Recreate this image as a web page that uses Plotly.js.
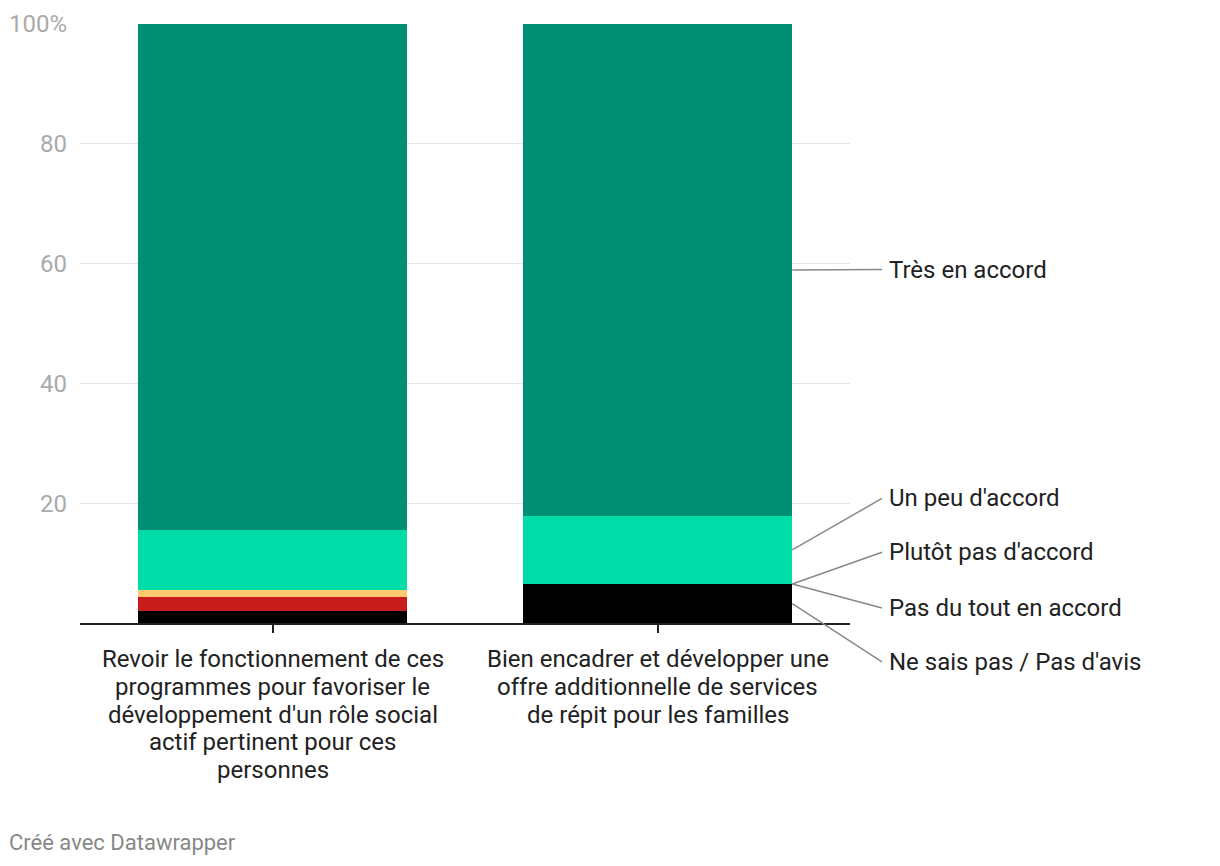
<!DOCTYPE html>
<html><head><meta charset="utf-8">
<script src="https://cdn.plot.ly/plotly-3.0.1.min.js"></script>
<style>body{margin:0;background:#fff}#c{width:1220px;height:866px}</style>
</head><body><div id="c"></div>
<script>
const categories = [
  "Revoir le fonctionnement de ces<br>programmes pour favoriser le<br>développement d'un rôle social<br>actif pertinent pour ces<br>personnes",
  "Bien encadrer et développer une<br>offre additionnelle de services<br>de répit pour les familles"
];
const seriesNames = ["Ne sais pas / Pas d'avis","Pas du tout en accord","Plutôt pas d'accord","Un peu d'accord","Très en accord"];
const neSaisPas = [2.0, 6.5];
const pasDuTout = [2.4, 0];
const plutotPas = [1.1, 0];
const unPeu = [10.0, 11.4];
const tresEnAccord = [84.5, 82.1];
const yTickVals = [20, 40, 60, 80, 100];
const yTickText = ["20", "40", "60", "80", "100%"];

const colors = ["#000000", "#c71e1d", "#fec96f", "#00dca8", "#018f73"];
const series = [neSaisPas, pasDuTout, plutotPas, unPeu, tresEnAccord];

const traces = series.map((vals, i) => ({
  type: 'bar', x: [0, 1], y: vals, name: seriesNames[i],
  marker: {color: colors[i], line: {width: 0}}, width: 0.7, hoverinfo: 'skip'
}));

const H = 599, W = 770;
const labelY = [-0.065, 0.025, 0.118, 0.208, 0.59];
const shapes = [];
const annotations = [];
const barRight = (1.35 + 0.5) / 2;
const lineEnd = 1 + 32 / W;
let cum = 0;
series.forEach((vals, i) => {
  const v = vals[1];
  const mid = (cum + v / 2) / 100;
  cum += v;
  shapes.push({type: 'line', xref: 'paper', yref: 'paper', x0: barRight, y0: mid, x1: lineEnd, y1: labelY[i],
    line: {color: '#888888', width: 1.5}});
  annotations.push({xref: 'paper', yref: 'paper', x: 1 + 37 / W, y: labelY[i], xanchor: 'left', yanchor: 'middle',
    text: seriesNames[i], showarrow: false, font: {family: 'Roboto', size: 24, color: '#222222'}});
});
// category labels, one annotation per line for tighter line spacing
categories.forEach((cat, ci) => {
  cat.split('<br>').forEach((line, li) => {
    annotations.push({xref: 'x', yref: 'paper', x: ci, y: -(36 + li * 27.75) / H, xanchor: 'center', yanchor: 'middle',
      text: line, showarrow: false, font: {family: 'Roboto', size: 24, color: '#222222'}});
  });
});
annotations.push({xref: 'paper', yref: 'paper', x: -73 / W, y: -(843 - 623) / H, xanchor: 'left', yanchor: 'middle',
  text: 'Créé avec Datawrapper', showarrow: false, font: {family: 'Roboto', size: 22, color: '#888888'}});

const layout = {
  width: 1220, height: 866, barmode: 'stack', showlegend: false,
  margin: {l: 80, r: 370, t: 24, b: 243},
  paper_bgcolor: '#fff', plot_bgcolor: '#fff',
  font: {family: 'Roboto', size: 24, color: '#222'},
  xaxis: {range: [-0.5, 1.5], tickvals: [0, 1], ticktext: ['', ''], showgrid: false, zeroline: false,
    showline: true, linecolor: '#222', linewidth: 2, ticks: 'outside', ticklen: 8, tickwidth: 2, tickcolor: '#222'},
  yaxis: {range: [0, 100], tickvals: yTickVals, ticktext: yTickText, showgrid: true, gridcolor: '#e5e5e5', gridwidth: 1,
    zeroline: false, showline: false, ticks: '', ticklabelstandoff: 12,
    tickfont: {family: 'Roboto', size: 24, color: '#aaaaaa'}},
  shapes: shapes, annotations: annotations
};
Plotly.newPlot('c', traces, layout, {displayModeBar: false, staticPlot: true});
</script></body></html>
